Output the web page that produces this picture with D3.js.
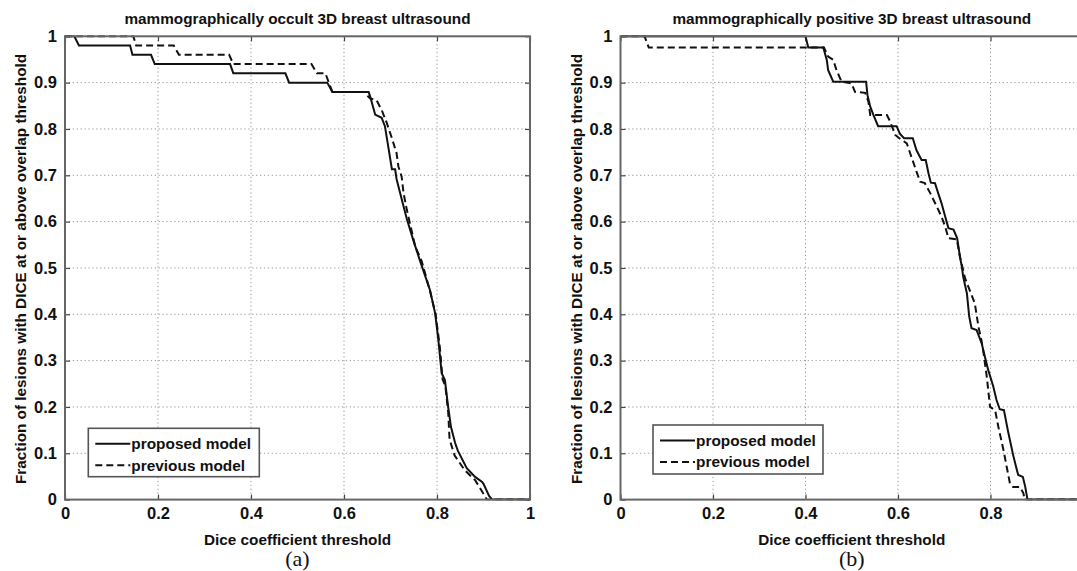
<!DOCTYPE html>
<html>
<head>
<meta charset="utf-8">
<script src="https://cdn.jsdelivr.net/npm/d3@7"></script>
<style>
  body { margin: 0; background: #fff; }
  svg { display: block; font-family: 'Liberation Sans', Arial, Helvetica, sans-serif; }
  .grid line { stroke: #9c9c9c; stroke-width: 1; stroke-dasharray: 1.3,2.6; }
  .axis text { font: bold 16.5px 'Liberation Sans', Arial, sans-serif; fill: #111; }
  .axis line { stroke: #444; stroke-width: 1.2; }
  .frame { fill: none; stroke: #666; stroke-width: 2; }
  .curve { fill: none; stroke: #111; stroke-width: 2; }
  .curve.dashed { stroke-dasharray: 7,4; }
  .title, .xlabel, .ylabel { font-weight: bold; font-size: 15.3px; fill: #111; }
  .legend-box { fill: #fff; stroke: #555; stroke-width: 1.6; }
  .legend-text { font-weight: bold; font-size: 15.4px; fill: #111; }
  .tag { font-family: 'Liberation Serif', 'Times New Roman', serif; font-size: 22px; fill: #111; }
</style>
</head>
<body>
<svg id="chart" width="1077" height="571"></svg>
<script>
const xTicks = [0, 0.2, 0.4, 0.6, 0.8, 1]
const xTickLabels = ['0', '0.2', '0.4', '0.6', '0.8', '1']
const yTicks = [0, 0.1, 0.2, 0.3, 0.4, 0.5, 0.6, 0.7, 0.8, 0.9, 1]
const yTickLabels = ['0', '0.1', '0.2', '0.3', '0.4', '0.5', '0.6', '0.7', '0.8', '0.9', '1']

const panelTitles = [
  'mammographically occult 3D breast ultrasound',
  'mammographically positive 3D breast ultrasound'
]
const panelTags = ['(a)', '(b)']
const seriesNames = ['proposed model', 'previous model']
const xLabel = 'Dice coefficient threshold'
const yLabel = 'Fraction of lesions with DICE at or above overlap threshold'

// [dice threshold, fraction]
const occultProposed = [
  [0, 1], [0.02, 1], [0.03, 0.98], [0.14, 0.98], [0.145, 0.96], [0.185, 0.96], [0.193, 0.94],
  [0.355, 0.94], [0.362, 0.92], [0.474, 0.92], [0.482, 0.9], [0.564, 0.9], [0.575, 0.88],
  [0.653, 0.88], [0.656, 0.871], [0.667, 0.831], [0.681, 0.824], [0.688, 0.806], [0.695, 0.763],
  [0.703, 0.713], [0.71, 0.713], [0.713, 0.692], [0.724, 0.649], [0.735, 0.606], [0.749, 0.56],
  [0.763, 0.517], [0.785, 0.452], [0.796, 0.402], [0.803, 0.344], [0.81, 0.273], [0.817, 0.258],
  [0.824, 0.2], [0.83, 0.157], [0.839, 0.122], [0.845, 0.105], [0.864, 0.068], [0.882, 0.049],
  [0.897, 0.038], [0.9, 0.034], [0.912, 0.008], [0.919, 0], [1, 0]
]
const occultPrevious = [
  [0, 1], [0.147, 1], [0.153, 0.98], [0.234, 0.98], [0.245, 0.96], [0.353, 0.96], [0.362, 0.94],
  [0.53, 0.94], [0.542, 0.92], [0.56, 0.92], [0.575, 0.88], [0.645, 0.88], [0.649, 0.873],
  [0.656, 0.866], [0.67, 0.862], [0.681, 0.841], [0.692, 0.813], [0.703, 0.78], [0.713, 0.748],
  [0.717, 0.719], [0.724, 0.697], [0.728, 0.662], [0.735, 0.626], [0.753, 0.547], [0.767, 0.515],
  [0.785, 0.45], [0.797, 0.4], [0.806, 0.33], [0.812, 0.26], [0.818, 0.245], [0.824, 0.19],
  [0.827, 0.13], [0.838, 0.095], [0.86, 0.063], [0.882, 0.042], [0.904, 0.006], [0.907, 0], [1, 0]
]
const positiveProposed = [
  [0, 1], [0.4, 1], [0.406, 0.976], [0.4385, 0.976], [0.446, 0.949], [0.449, 0.927], [0.46, 0.902],
  [0.531, 0.902], [0.534, 0.873], [0.54, 0.848], [0.547, 0.83], [0.557, 0.806], [0.597, 0.806],
  [0.604, 0.79], [0.613, 0.78], [0.632, 0.78], [0.64, 0.754], [0.651, 0.733], [0.66, 0.733],
  [0.666, 0.704], [0.671, 0.684], [0.68, 0.683], [0.687, 0.661], [0.694, 0.64], [0.702, 0.611],
  [0.709, 0.586], [0.72, 0.583], [0.728, 0.564], [0.734, 0.524], [0.738, 0.503], [0.741, 0.481],
  [0.749, 0.445], [0.754, 0.395], [0.759, 0.37], [0.77, 0.366], [0.781, 0.337], [0.788, 0.308],
  [0.795, 0.28], [0.806, 0.244], [0.813, 0.215], [0.82, 0.195], [0.829, 0.193], [0.838, 0.147],
  [0.849, 0.096], [0.857, 0.064], [0.86, 0.053], [0.87, 0.049], [0.875, 0.028], [0.88, 0], [1, 0]
]
const positivePrevious = [
  [0, 1], [0.052, 1], [0.061, 0.976], [0.44, 0.976], [0.449, 0.956], [0.46, 0.949], [0.467, 0.927],
  [0.478, 0.902], [0.5, 0.898], [0.507, 0.88], [0.529, 0.878], [0.536, 0.859], [0.54, 0.83],
  [0.576, 0.83], [0.583, 0.816], [0.594, 0.787], [0.603, 0.78], [0.619, 0.769], [0.63, 0.737],
  [0.64, 0.708], [0.648, 0.686], [0.658, 0.683], [0.67, 0.661], [0.684, 0.632], [0.694, 0.611],
  [0.703, 0.586], [0.709, 0.564], [0.727, 0.562], [0.734, 0.524], [0.745, 0.478], [0.755, 0.452],
  [0.766, 0.424], [0.774, 0.373], [0.781, 0.341], [0.785, 0.316], [0.792, 0.265], [0.799, 0.2],
  [0.81, 0.193], [0.817, 0.157], [0.828, 0.107], [0.835, 0.071], [0.842, 0.035], [0.849, 0.027],
  [0.864, 0.027], [0.871, 0.014], [0.874, 0], [1, 0]
]

const chartWidth = 1077
const plotTop = 36.3
const plotBottom = 499.6

const panels = [
  {
    left: 65, right: 530,
    title: panelTitles[0], tag: panelTags[0],
    series: [occultProposed, occultPrevious],
    legend: { x: 88.3, y: 428.3, w: 171, h: 48.4 }
  },
  {
    left: 620.5, right: 1083,
    title: panelTitles[1], tag: panelTags[1],
    series: [positiveProposed, positivePrevious],
    legend: { x: 653, y: 425, w: 170, h: 49 }
  }
]

class Panel {
  constructor (svg, config, index) {
    let x = d3.scaleLinear().domain([0, 1]).range([config.left, config.right])
    let y = d3.scaleLinear().domain([0, 1]).range([plotBottom, plotTop])
    let group = svg.append('g').attr('class', 'panel')
    let cx = (config.left + config.right) / 2

    // dotted grid
    let grid = group.append('g').attr('class', 'grid')
    grid.selectAll('.gx')
      .data(xTicks.filter(d => d > 0 && d < 1))
      .join('line')
      .attr('class', 'gx')
      .attr('x1', d => x(d)).attr('x2', d => x(d))
      .attr('y1', plotTop).attr('y2', plotBottom)
    grid.selectAll('.gy')
      .data(yTicks.filter(d => d > 0 && d < 1))
      .join('line')
      .attr('class', 'gy')
      .attr('x1', config.left).attr('x2', config.right)
      .attr('y1', d => y(d)).attr('y2', d => y(d))

    // inward ticks on all four sides; the right panel runs past the page edge,
    // so a label that would fall outside is left blank
    let noDomain = g => g.select('.domain').remove()
    let xFormat = (d, i) => x(d) + 6 < chartWidth ? xTickLabels[i] : ''
    group.append('g')
      .attr('class', 'axis')
      .attr('transform', `translate(0, ${plotBottom})`)
      .call(d3.axisBottom(x).tickValues(xTicks).tickFormat(xFormat)
        .tickSizeInner(-5).tickSizeOuter(0).tickPadding(8))
      .call(noDomain)
    group.append('g')
      .attr('class', 'axis')
      .attr('transform', `translate(${config.left}, 0)`)
      .call(d3.axisLeft(y).tickValues(yTicks).tickFormat((d, i) => yTickLabels[i])
        .tickSizeInner(-5).tickSizeOuter(0).tickPadding(8))
      .call(noDomain)
    group.append('g')
      .attr('class', 'axis')
      .attr('transform', `translate(0, ${plotTop})`)
      .call(d3.axisTop(x).tickValues(xTicks).tickFormat('').tickSizeInner(-5).tickSizeOuter(0))
      .call(noDomain)
    group.append('g')
      .attr('class', 'axis')
      .attr('transform', `translate(${config.right}, 0)`)
      .call(d3.axisRight(y).tickValues(yTicks).tickFormat('').tickSizeInner(-5).tickSizeOuter(0))
      .call(noDomain)

    // curves
    let clipId = `clip-${index}`
    svg.append('clipPath').attr('id', clipId)
      .append('rect')
      .attr('x', config.left).attr('y', plotTop - 1)
      .attr('width', config.right - config.left).attr('height', plotBottom - plotTop + 2)

    let line = d3.line().x(d => x(d[0])).y(d => y(d[1]))
    group.append('g')
      .attr('clip-path', `url(#${clipId})`)
      .selectAll('path')
      .data(config.series)
      .join('path')
      .attr('class', (d, i) => i === 1 ? 'curve dashed' : 'curve')
      .attr('d', line)

    group.append('rect')
      .attr('class', 'frame')
      .attr('x', config.left).attr('y', plotTop)
      .attr('width', config.right - config.left).attr('height', plotBottom - plotTop)

    // texts
    group.append('text')
      .attr('class', 'title')
      .attr('x', cx).attr('y', 24)
      .attr('text-anchor', 'middle')
      .text(config.title)
    group.append('text')
      .attr('class', 'xlabel')
      .attr('x', cx).attr('y', 545)
      .attr('text-anchor', 'middle')
      .text(xLabel)
    group.append('text')
      .attr('class', 'ylabel')
      .attr('transform', `translate(${config.left - 39}, ${(plotTop + plotBottom) / 2 + 1}) rotate(-90)`)
      .attr('text-anchor', 'middle')
      .text(yLabel)
    group.append('text')
      .attr('class', 'tag')
      .attr('x', cx).attr('y', 566)
      .attr('text-anchor', 'middle')
      .text(config.tag)

    // legend
    let lg = config.legend
    let legend = group.append('g')
      .attr('class', 'legend')
      .attr('transform', `translate(${lg.x}, ${lg.y})`)
    legend.append('rect')
      .attr('class', 'legend-box')
      .attr('width', lg.w).attr('height', lg.h)
    let rows = legend.selectAll('.row')
      .data(seriesNames)
      .join('g')
      .attr('class', 'row')
      .attr('transform', (d, i) => `translate(0, ${15.5 + i * 21.5})`)
    rows.append('line')
      .attr('class', (d, i) => i === 1 ? 'curve dashed' : 'curve')
      .attr('x1', 7).attr('x2', 42)
      .attr('y1', 0).attr('y2', 0)
    rows.append('text')
      .attr('class', 'legend-text')
      .attr('x', 43).attr('dy', '0.35em')
      .text(d => d)

    this.group = group
  }
}

let svg = d3.select('#chart')
panels.forEach((p, i) => new Panel(svg, p, i))
</script>
</body>
</html>
